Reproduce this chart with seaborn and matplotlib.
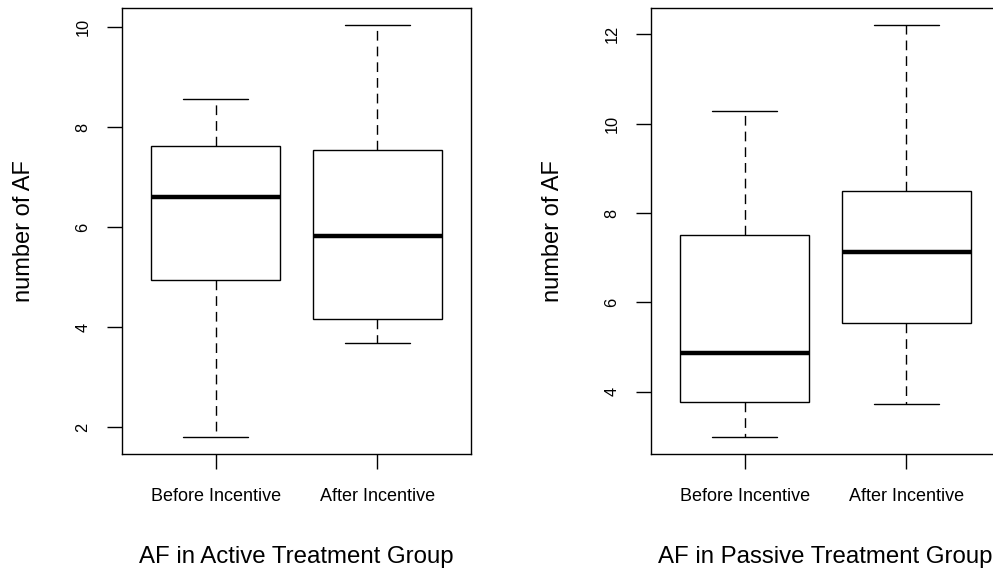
import pandas as pd
import matplotlib.pyplot as plt
import seaborn as sns

# five-number summaries (min, q1, median, q3, max)
groups = ["Before Incentive", "After Incentive"]
active_before = [1.80, 4.95, 6.61, 7.63, 8.55]
active_after = [3.69, 4.17, 5.82, 7.54, 10.04]
passive_before = [2.99, 3.78, 4.86, 7.51, 10.29]
passive_after = [3.73, 5.53, 7.12, 8.49, 12.22]

active_ticks = [2, 4, 6, 8, 10]
passive_ticks = [4, 6, 8, 10, 12]

sns.set_style("ticks")
plt.rcParams['font.family'] = ['Liberation Sans', 'DejaVu Sans']
plt.rcParams['axes.edgecolor'] = 'black'
plt.rcParams['axes.linewidth'] = 1.0
plt.rcParams['text.color'] = 'black'
plt.rcParams['axes.labelcolor'] = 'black'
plt.rcParams['xtick.color'] = 'black'
plt.rcParams['ytick.color'] = 'black'


def long_df(before, after):
    return pd.DataFrame({
        "group": [groups[0]] * len(before) + [groups[1]] * len(after),
        "value": before + after,
    })


def panel(ax, df, ticks, ylim, title):
    sns.boxplot(data=df, x="group", y="value", order=groups, ax=ax,
                color="white", linecolor="black", linewidth=1.0,
                saturation=1, width=0.8, whis=(0, 100),
                medianprops={"linewidth": 3.2, "solid_capstyle": "butt"},
                whiskerprops={"linestyle": (0, (7, 4.3))})
    ax.set_xlim(-0.58, 1.58)
    ax.set_ylim(*ylim)
    ax.set_yticks(ticks)
    ax.set_yticklabels([str(t) for t in ticks], rotation=90, va="center")
    ax.tick_params(axis="y", length=10.8, width=1, labelsize=11.8, pad=12,
                   color="black", labelcolor="black")
    ax.tick_params(axis="x", length=10.8, width=1, labelsize=13, pad=14,
                   color="black", labelcolor="black")
    for s in ax.spines.values():
        s.set_visible(True)
        s.set_color("black")
        s.set_linewidth(1.0)
    ax.set_ylabel("number of AF", fontsize=17, va="center", color="black")
    ax.yaxis.set_label_coords(-0.28, 0.5)
    ax.set_xlabel(title, fontsize=17.3, va="center", color="black")
    ax.xaxis.set_label_coords(0.5, -0.232)


fig = plt.figure(figsize=(9.93, 5.71), dpi=100)
ax1 = fig.add_axes([122 / 993, 1 - 453.5 / 571, 349 / 993, 445.5 / 571])
ax2 = fig.add_axes([651 / 993, 1 - 453.5 / 571, 349 / 993, 445.5 / 571])

panel(ax1, long_df(active_before, active_after), active_ticks,
      (1.47, 10.38), "AF in Active Treatment Group")
panel(ax2, long_df(passive_before, passive_after), passive_ticks,
      (2.62, 12.59), "AF in Passive Treatment Group")

plt.savefig("out.png", dpi=100)
